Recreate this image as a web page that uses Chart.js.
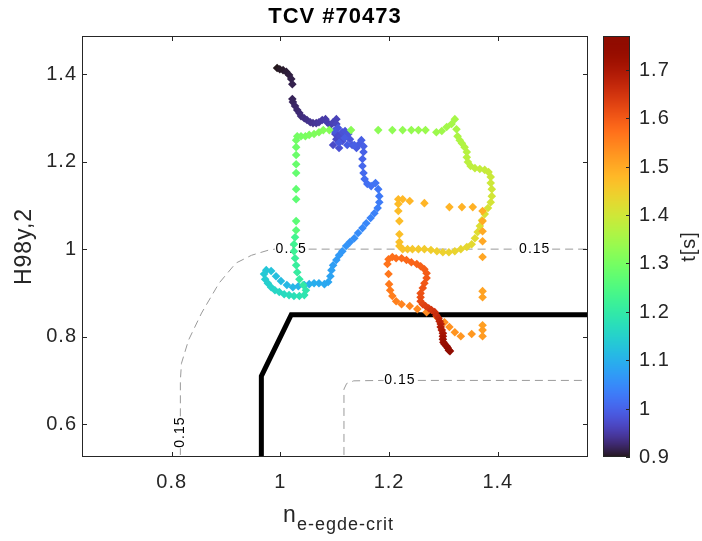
<!DOCTYPE html>
<html>
<head>
<meta charset="utf-8">
<script src="https://cdn.jsdelivr.net/npm/chart.js@4.4.1/dist/chart.umd.min.js"></script>
<style>
  html, body { margin: 0; padding: 0; background: #fff; }
  #wrap { width: 702px; height: 541px; }
</style>
</head>
<body>
<div id="wrap"><canvas id="chart" width="702" height="541"></canvas></div>
<script>
// trajectory of TCV #70473
const neEdge = [
  0.994,0.999,1.005,1.011,1.016,1.020,1.022,1.022,1.023,1.027,1.031,1.035,1.038,1.044,1.049,1.055,1.060,1.066,1.071,1.077,1.083,1.086,1.092,
  1.097,1.103,1.103,1.103,1.101,1.103,1.097,1.105,1.110,1.114,1.108,1.114,1.119,1.125,1.128,1.132,1.140,1.145,1.149,1.153,
  1.106,1.099,1.108,1.118,1.123,1.136,
  1.153,1.151,1.151,1.153,1.155,1.160,1.167,1.175,1.180,1.182,1.182,1.179,1.173,1.166,1.158,1.151,1.143,1.136,1.128,1.121,1.114,1.108,1.103,1.097,1.094,1.092,1.088,1.081,1.071,1.062,1.053,1.044,1.033,1.023,
  1.012,1.001,0.992,0.983,0.974,0.970,0.972,0.977,0.983,0.990,0.998,1.007,1.016,1.025,1.035,1.044,1.047,1.042,1.035,1.031,1.029,1.027,1.025,1.025,1.027,
  1.029,1.029,1.029,1.029,1.029,1.029,1.029,1.029,1.029,1.031,1.038,1.046,1.053,1.062,1.071,1.079,1.090,1.130,1.180,1.206,1.225,1.241,1.254,1.267,1.287,1.297,1.306,1.315,1.321,1.324,
  1.326,1.330,1.334,1.339,1.343,1.343,1.345,1.350,1.358,1.367,1.376,1.383,1.387,1.387,1.389,1.389,1.387,1.382,1.376,1.371,1.367,1.363,1.358,1.352,1.343,1.332,
  1.321,1.310,1.299,1.288,1.277,1.265,1.254,1.243,1.234,1.225,1.219,
  1.219,1.219,1.219,1.217,1.217,1.217,
  1.225,1.238,1.265,1.311,1.334,1.354,
  1.372,1.372,1.372,1.372,1.372,1.372,1.372,1.372,1.372,1.372,
  1.352,1.332,1.321,
  1.311,1.302,1.288,1.269,1.252,1.238,1.223,1.213,1.206,1.202,1.200,1.199,
  1.197,1.199,1.206,1.213,1.223,1.232,1.241,1.251,1.258,1.265,1.269,1.269,1.265,1.262,1.258,
  1.258,1.258,1.262,1.267,1.273,1.278,1.284,1.287,1.291,1.293,1.295,1.295,1.297,1.299,1.299,1.299,1.300,1.302,1.306,1.308,1.310,1.312
];
const h98 = [
  1.414,1.411,1.409,1.405,1.398,1.389,1.377,1.343,1.336,1.327,1.318,1.311,1.304,1.299,1.295,1.290,1.288,1.288,1.290,1.295,1.297,1.290,1.283,
  1.290,1.297,1.286,1.274,1.263,1.251,1.238,1.261,1.258,1.247,1.231,1.267,1.270,1.263,1.251,1.238,1.231,1.240,1.249,1.235,
  1.277,1.270,1.243,1.254,1.238,1.238,
  1.222,1.206,1.190,1.174,1.160,1.149,1.144,1.151,1.137,1.121,1.107,1.094,1.082,1.071,1.059,1.048,1.037,1.025,1.016,1.007,0.995,0.986,0.975,0.963,0.952,0.938,0.925,0.920,0.922,0.922,0.920,0.918,0.915,0.913,
  0.918,0.927,0.938,0.950,0.952,0.943,0.931,0.922,0.913,0.906,0.902,0.897,0.895,0.893,0.893,0.895,0.906,0.918,0.931,0.947,0.963,0.979,0.995,1.011,1.027,
  1.043,1.064,1.114,1.137,1.174,1.194,1.215,1.233,1.249,1.258,1.258,1.258,1.261,1.263,1.267,1.272,1.272,1.272,1.272,1.272,1.272,1.272,1.272,1.272,1.267,1.270,1.279,1.286,1.297,1.274,
  1.258,1.249,1.242,1.233,1.222,1.210,1.199,1.190,1.185,1.183,1.181,1.176,1.165,1.151,1.137,1.121,1.107,1.094,1.080,1.066,1.053,1.039,1.025,1.011,1.005,1.000,
  0.995,0.993,0.993,0.995,0.998,1.000,1.000,1.000,1.000,1.000,1.007,
  1.016,1.034,1.064,1.087,1.103,1.114,
  1.114,1.110,1.105,1.096,1.096,1.096,
  1.087,1.064,1.041,1.018,0.982,0.904,0.890,0.826,0.815,0.801,
  0.806,0.801,0.810,
  0.822,0.833,0.845,0.856,0.863,0.870,0.874,0.881,0.893,0.906,0.920,0.943,
  0.966,0.977,0.982,0.979,0.979,0.975,0.970,0.966,0.961,0.954,0.945,0.934,0.922,0.911,0.899,
  0.890,0.881,0.874,0.870,0.865,0.861,0.856,0.849,0.842,0.835,0.829,0.822,0.815,0.808,0.801,0.794,0.787,0.783,0.778,0.774,0.769,0.767
];
const tSec = [
  0.900,0.903,0.905,0.908,0.910,0.913,0.915,0.918,0.920,0.923,0.925,0.928,0.930,0.933,0.935,0.938,0.940,0.943,0.945,0.948,0.950,0.953,0.955,
  0.958,0.960,0.962,0.964,0.966,0.968,0.970,0.972,0.974,0.976,0.978,0.980,0.982,0.984,0.986,0.988,0.990,0.992,0.994,0.996,
  0.985,0.987,0.989,0.991,0.993,0.995,
  0.998,1.001,1.005,1.008,1.011,1.015,1.018,1.021,1.025,1.028,1.031,1.035,1.038,1.041,1.045,1.048,1.051,1.055,1.058,1.061,1.065,1.068,1.071,1.075,1.078,1.081,1.085,1.088,1.091,1.095,1.098,1.101,1.105,1.108,
  1.112,1.117,1.122,1.127,1.132,1.137,1.142,1.147,1.152,1.157,1.162,1.167,1.172,1.177,1.182,1.187,1.192,1.197,1.202,1.207,1.212,1.217,1.222,1.227,1.232,
  1.262,1.266,1.270,1.274,1.278,1.282,1.286,1.290,1.294,1.297,1.300,1.303,1.306,1.309,1.312,1.315,1.318,1.321,1.324,1.327,1.330,1.333,1.336,1.339,1.342,1.345,1.348,1.351,1.353,1.355,
  1.358,1.361,1.364,1.367,1.370,1.373,1.376,1.379,1.382,1.385,1.388,1.391,1.394,1.397,1.400,1.403,1.406,1.409,1.412,1.415,1.418,1.421,1.424,1.427,1.430,1.433,
  1.436,1.439,1.442,1.445,1.448,1.451,1.454,1.457,1.460,1.463,1.466,
  1.468,1.470,1.472,1.474,1.476,1.478,
  1.480,1.482,1.484,1.486,1.488,1.490,
  1.493,1.496,1.499,1.502,1.505,1.508,1.510,1.513,1.516,1.519,
  1.522,1.525,1.528,
  1.531,1.534,1.537,1.540,1.543,1.546,1.549,1.552,1.555,1.558,1.561,1.564,
  1.567,1.570,1.573,1.576,1.579,1.582,1.585,1.588,1.591,1.594,1.597,1.600,1.603,1.606,1.609,
  1.612,1.619,1.626,1.633,1.640,1.647,1.654,1.661,1.668,1.675,1.682,1.689,1.696,1.703,1.710,1.717,1.724,1.731,1.738,1.745,1.752,1.760
];

// 0.15 contour lines (null = gap left for a label)
const contourX = [0.816,0.816,0.816,0.816,0.816,0.818,0.831,0.855,0.887,0.918,0.947,0.979,0.990,1.020,1.052,1.435,1.468,1.500,1.580,1.580,
                  1.117,1.117,1.122,1.135,1.190,1.220,1.253,1.580];
const contourY = [0.500,0.545,null,0.618,0.700,0.739,0.792,0.854,0.922,0.968,0.986,0.998,1.000,null,1.000,1.000,null,1.000,1.000,null,
                  0.500,0.680,0.693,0.699,0.700,null,0.700,0.700];
const contourLabels = [
  { x: 1.020, y: 1.000, rot: 0 },
  { x: 1.468, y: 1.000, rot: 0 },
  { x: 1.220, y: 0.700, rot: 0 },
  { x: 0.816, y: 0.582, rot: -90 }
];
// thick black boundary
const limitX = [0.965, 0.965, 1.020, 1.600];
const limitY = [0.400, 0.710, 0.850, 0.850];

const xTicks = [0.8, 1, 1.2, 1.4];
const yTicks = [0.6, 0.8, 1, 1.2, 1.4];
const tTicks = [0.9, 1, 1.1, 1.2, 1.3, 1.4, 1.5, 1.6, 1.7];
const tMin = 0.9, tMax = 1.77;

const FONT = '"Liberation Sans", Arial, sans-serif';
const INK = '#262626';

function turbo(v) {
  const x = Math.max(0, Math.min(1, v));
  const r = 0.13572138 + x*(4.61539260 + x*(-42.66032258 + x*(132.13108234 + x*(-152.94239396 + x*59.28637943))));
  const g = 0.09140261 + x*(2.19418839 + x*(4.84296658 + x*(-14.18503333 + x*(4.27729857 + x*2.82956604))));
  const b = 0.10667330 + x*(12.64194608 + x*(-60.58204836 + x*(110.36276771 + x*(-89.90310912 + x*27.34824973))));
  return 'rgb(' + [r, g, b].map(c => Math.round(255 * Math.max(0, Math.min(1, c)))).join(',') + ')';
}
const tColor = t => turbo((t - tMin) / (tMax - tMin));

const fmt = v => String(Math.round(v * 10) / 10);

const decor = {
  id: 'decor',
  beforeDraw(chart) {
    chart.ctx.letterSpacing = '1px';
  },
  beforeDatasetsDraw(chart) {
    const ctx = chart.ctx, xs = chart.scales.x, ys = chart.scales.y;
    ctx.save();
    ctx.fillStyle = '#000';
    ctx.font = '14px ' + FONT;
    ctx.letterSpacing = '1px';
    ctx.textAlign = 'center';
    ctx.textBaseline = 'middle';
    contourLabels.forEach(l => {
      ctx.save();
      ctx.translate(xs.getPixelForValue(l.x), ys.getPixelForValue(l.y));
      ctx.rotate(l.rot * Math.PI / 180);
      ctx.fillText('0.15', 0, 0);
      ctx.restore();
    });
    ctx.restore();
  },
  afterDraw(chart) {
    const ctx = chart.ctx, a = chart.chartArea;
    const xs = chart.scales.x, ys = chart.scales.y, cb = chart.scales.cb;
    ctx.save();
    ctx.letterSpacing = '1px';
    // axes box and inward ticks
    ctx.strokeStyle = INK;
    ctx.lineWidth = 1;
    ctx.strokeRect(a.left + 0.5, a.top + 0.5, a.right - a.left - 1, a.bottom - a.top - 1);
    ctx.beginPath();
    xTicks.forEach(v => {
      const p = Math.round(xs.getPixelForValue(v)) + 0.5;
      ctx.moveTo(p, a.bottom); ctx.lineTo(p, a.bottom - 5);
      ctx.moveTo(p, a.top); ctx.lineTo(p, a.top + 5);
    });
    yTicks.forEach(v => {
      const p = Math.round(ys.getPixelForValue(v)) + 0.5;
      ctx.moveTo(a.left, p); ctx.lineTo(a.left + 5, p);
      ctx.moveTo(a.right, p); ctx.lineTo(a.right - 5, p);
    });
    ctx.stroke();

    // colorbar
    const bx = cb.left + 15, bw = 27;
    for (let py = Math.floor(a.top); py < a.bottom; py++) {
      ctx.fillStyle = tColor(cb.getValueForPixel(py + 0.5));
      ctx.fillRect(bx, py, bw, 1);
    }
    ctx.strokeStyle = INK;
    ctx.strokeRect(bx + 0.5, a.top + 0.5, bw - 1, a.bottom - a.top - 1);
    ctx.beginPath();
    ctx.fillStyle = INK;
    ctx.font = '20px ' + FONT;
    ctx.textAlign = 'left';
    ctx.textBaseline = 'middle';
    tTicks.forEach(v => {
      const p = Math.round(cb.getPixelForValue(v)) + 0.5;
      ctx.moveTo(bx + bw, p); ctx.lineTo(bx + bw - 4, p);
      ctx.fillText(fmt(v), bx + bw + 9, p);
    });
    ctx.stroke();

    // colorbar label
    ctx.save();
    ctx.translate(689, (a.top + a.bottom) / 2);
    ctx.rotate(-Math.PI / 2);
    ctx.textAlign = 'center';
    ctx.font = '20px ' + FONT;
    ctx.fillText('t[s]', 0, 0);
    ctx.restore();

    // y label
    ctx.save();
    ctx.translate(25, (a.top + a.bottom) / 2);
    ctx.rotate(-Math.PI / 2);
    ctx.textAlign = 'center';
    ctx.font = '23px ' + FONT;
    ctx.fillText('H98y,2', 0, 0);
    ctx.restore();

    // x label with subscript
    ctx.textAlign = 'left';
    ctx.textBaseline = 'alphabetic';
    ctx.font = '23px ' + FONT;
    ctx.fillText('n', 283, 522);
    ctx.font = '18px ' + FONT;
    ctx.fillText('e-egde-crit', 297, 530);

    // title
    ctx.fillStyle = '#000';
    ctx.font = 'bold 22px ' + FONT;
    ctx.textAlign = 'center';
    ctx.textBaseline = 'middle';
    ctx.fillText('TCV #70473', (a.left + a.right) / 2, 17);
    ctx.restore();
  }
};

const points = neEdge.map((x, i) => ({ x: x, y: h98[i] }));
const contourPts = contourX.map((x, i) => ({ x: x, y: contourY[i] }));
const limitPts = limitX.map((x, i) => ({ x: x, y: limitY[i] }));

const tickFont = { family: FONT, size: 20 };

new Chart(document.getElementById('chart').getContext('2d'), {
  type: 'scatter',
  data: {
    datasets: [
      {
        data: points,
        pointStyle: 'rectRot',
        pointRadius: 4.3,
        pointBorderWidth: 0,
        pointBackgroundColor: tSec.map(tColor),
        pointBorderColor: tSec.map(tColor),
        order: 0
      },
      {
        type: 'line',
        data: limitPts,
        borderColor: '#000',
        borderWidth: 5,
        pointRadius: 0,
        fill: false,
        order: 1
      },
      {
        type: 'line',
        data: contourPts,
        borderColor: '#9a9a9a',
        borderWidth: 1,
        borderDash: [8, 5],
        pointRadius: 0,
        spanGaps: false,
        fill: false,
        order: 2
      }
    ]
  },
  options: {
    responsive: false,
    devicePixelRatio: 1,
    animation: false,
    events: [],
    layout: { padding: { top: 36, left: 0, right: 0, bottom: 0 } },
    plugins: { legend: { display: false }, tooltip: { enabled: false }, title: { display: false } },
    scales: {
      x: {
        type: 'linear', position: 'bottom', min: 0.635, max: 1.566,
        grid: { display: false, drawTicks: false }, border: { display: false },
        ticks: { font: tickFont, color: INK, padding: 13, maxRotation: 0, callback: v => fmt(v) },
        afterBuildTicks: s => { s.ticks = xTicks.map(v => ({ value: v })); },
        afterFit: s => { s.height = 84; }
      },
      y: {
        type: 'linear', position: 'left', min: 0.525, max: 1.487,
        grid: { display: false, drawTicks: false }, border: { display: false },
        ticks: { font: tickFont, color: INK, padding: 5, callback: v => fmt(v) },
        afterBuildTicks: s => { s.ticks = yTicks.map(v => ({ value: v })); },
        afterFit: s => { s.width = 82; }
      },
      cb: {
        type: 'linear', position: 'right', min: tMin, max: tMax,
        grid: { display: false, drawTicks: false }, border: { display: false },
        ticks: { display: false },
        afterFit: s => { s.width = 114; }
      }
    }
  },
  plugins: [decor]
});
</script>
</body>
</html>
